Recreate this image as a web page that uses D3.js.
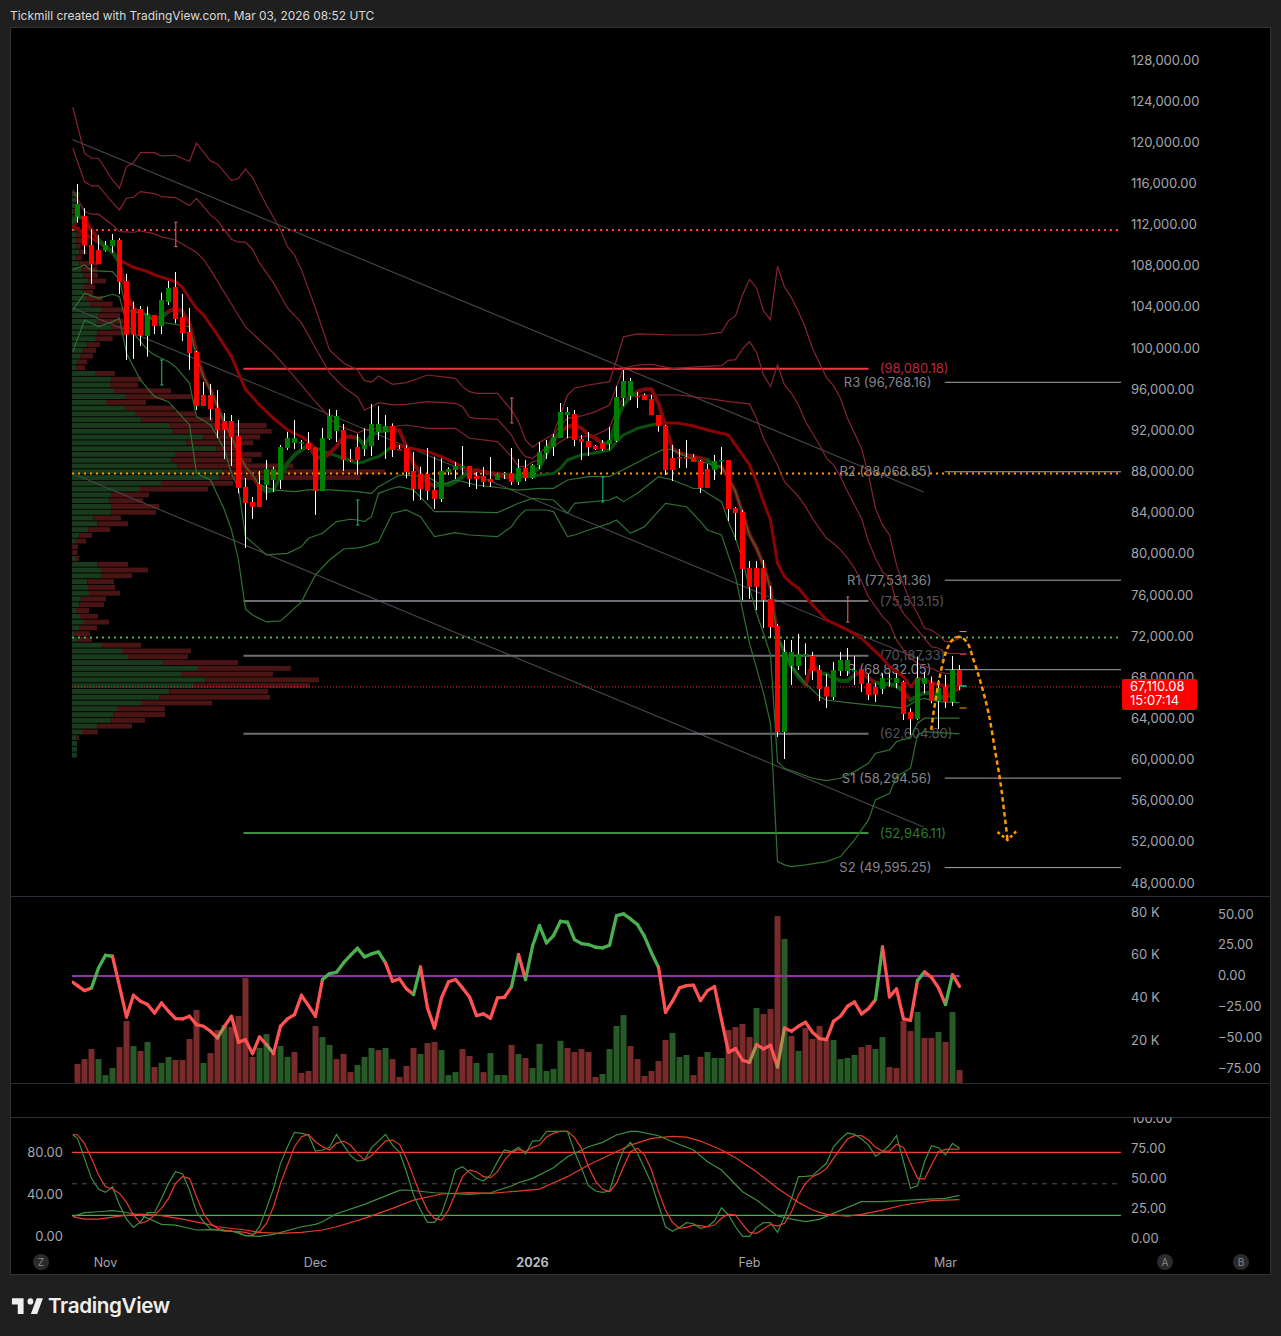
<!DOCTYPE html>
<html><head><meta charset="utf-8">
<script src="https://cdn.jsdelivr.net/npm/d3@7"></script>
<style>html,body{margin:0;padding:0;background:#1f1f1f;overflow:hidden}svg{display:block}text{font-family:Inter,Roboto,sans-serif}</style>
</head><body><div id="c"></div>
<script>
// ---- candles, in thousands of USD, one per day from 28 Oct 2025
const openK=[112.73,112.79,109.97,109.52,109.42,109.87,110.46,106.44,103.72,103.72,101.13,103.17,102.10,104.43,105.89,102.97,101.52,99.57,95.39,95.39,94.13,92.86,92.86,91.41,86.45,84.99,86.74,86.64,87.13,87.13,90.24,90.73,90.69,90.73,90.24,86.06,91.12,91.89,91.99,89.14,90.34,90.14,90.43,91.79,91.79,92.37,90.17,90.24,88.00,87.71,87.71,86.15,85.28,87.90,88.10,88.39,88.49,87.52,87.52,87.22,87.13,87.71,87.81,86.93,88.29,87.32,88.58,89.75,90.33,91.21,93.44,93.54,91.11,90.92,90.43,90.72,90.63,90.92,95.10,95.29,95.29,95.39,95.00,93.44,92.37,89.26,89.36,89.36,89.36,88.97,88.20,88.10,88.97,89.07,84.40,84.01,78.57,78.57,78.57,75.56,72.93,62.63,69.05,69.05,69.95,70.02,68.66,66.97,66.03,68.56,68.56,68.50,68.76,67.39,66.97,66.81,67.78,67.39,67.49,64.58,63.90,67.30,67.39,65.64,67.01,65.55,68.66];
const highK=[115.90,113.54,111.49,110.94,110.36,111.04,110.62,107.15,104.46,104.04,103.98,103.17,105.34,106.47,107.35,105.21,103.85,99.67,96.66,96.46,95.88,93.64,93.45,92.96,87.32,85.48,88.00,89.07,88.43,90.53,91.80,92.96,91.02,91.80,90.27,92.18,94.03,93.93,92.57,90.14,91.60,92.15,94.51,94.32,93.44,92.63,90.53,90.53,89.85,88.42,90.24,89.39,89.23,88.36,88.88,90.43,88.49,87.90,88.39,89.36,87.77,87.90,90.24,89.17,89.07,88.68,90.82,91.01,91.60,94.61,94.22,93.93,91.50,91.79,90.53,91.01,92.28,96.26,97.82,97.04,95.68,95.55,95.39,93.44,92.47,90.53,90.14,91.01,89.65,89.07,88.68,89.56,90.33,89.07,84.50,84.20,79.25,79.25,79.35,76.82,73.13,71.57,71.57,72.16,71.25,70.41,69.14,68.27,69.44,70.41,70.80,70.02,68.76,68.27,67.36,68.33,68.33,68.33,67.62,64.93,69.95,68.46,68.01,67.69,68.17,70.02,69.14];
const lowK=[112.14,109.10,106.18,108.13,109.32,109.23,105.21,98.79,98.89,100.15,99.12,101.32,101.32,104.14,102.36,100.64,97.82,93.93,94.32,92.96,91.21,89.17,88.49,85.83,80.52,83.34,84.51,85.19,85.96,86.26,90.05,90.14,90.14,90.05,83.73,86.06,91.02,90.82,88.00,88.88,87.62,89.46,89.46,91.01,89.17,89.36,90.04,87.29,85.12,85.18,85.18,84.31,84.99,87.61,87.22,87.61,86.45,86.25,86.45,86.45,87.13,87.22,86.64,86.64,87.03,87.22,88.20,89.17,89.46,91.21,91.18,90.43,89.07,89.46,90.04,89.94,90.04,90.82,94.32,94.90,94.12,94.90,93.44,91.82,87.61,87.03,88.29,88.29,88.88,85.86,86.35,87.13,87.71,83.14,81.29,75.46,75.56,74.49,72.74,71.77,62.15,60.01,67.20,68.66,68.17,67.69,65.64,64.96,65.74,68.08,68.08,67.20,66.52,65.74,65.55,66.32,67.04,66.88,63.80,62.34,63.80,66.39,65.42,62.92,64.96,65.16,66.71];
const closeK=[113.96,109.91,108.13,108.13,109.97,110.46,106.38,101.22,101.22,101.13,103.17,102.10,104.63,105.79,102.78,101.42,99.47,94.32,94.32,94.03,91.99,91.99,91.31,86.35,84.89,84.51,84.51,88.20,88.20,90.34,91.21,91.21,90.82,90.14,86.06,91.21,93.35,93.35,89.07,89.07,89.07,90.53,92.57,92.57,92.37,90.04,90.11,87.90,86.25,86.25,86.06,85.28,88.00,88.20,88.49,88.49,87.22,87.22,86.93,86.93,87.71,87.81,86.93,88.29,87.32,88.58,89.85,90.43,91.31,93.74,93.74,91.01,90.82,90.33,90.14,90.14,91.01,95.19,96.75,96.75,95.23,94.90,93.44,92.37,88.10,88.10,89.26,89.30,88.88,86.35,86.35,88.97,89.07,84.31,83.92,78.47,76.73,76.73,75.46,72.84,62.63,70.41,70.41,70.21,70.21,68.56,66.81,66.03,68.66,69.63,69.63,68.63,67.30,66.23,66.23,67.88,67.88,67.88,64.38,63.90,67.88,67.88,65.64,66.91,65.55,68.66,67.11];

// ---- bands and moving averages: [day index, price k]
const upper3=[[-0.67,123.36],[1,118.89],[2,118.40],[3,118.40],[5,116.29],[6,115.48],[7,117.59],[8,117.98],[9,118.95],[11,118.95],[12,118.63],[14,118.69],[16,118.08],[17,119.86],[19,118.14],[20,117.85],[22,116.23],[23,116.46],[24,117.36],[25,116.55],[26,115.16],[27,113.86],[29,111.43],[30,109.81],[31,109.0],[32,107.55],[34,103.82],[36,99.76],[38,98.5],[40,97.82],[41,96.78],[42,96.65],[43,97.23],[45,96.42],[47,96.59],[50,97.33],[54,97.01],[55,96.2],[56,95.71],[57,95.55],[60,95.55],[62,93.93],[63,92.8],[64,91.01],[65,90.3],[66,90.76],[68,91.6],[70,95.39],[71,96.04],[73,96.36],[76,96.68],[77,98.79],[78,101.04],[80,101.32],[85,101.22],[89,101.22],[92,101.48],[93,102.62],[94,103.07],[95,105.11],[96,106.63],[97,105.82],[98,103.56],[99,102.71],[100,107.90],[101,105.86],[102,104.85],[103,103.49],[104,101.87],[105,99.93],[106,98.47],[107,97.08],[108,96.30],[109,95.07],[110,93.12],[111,91.67],[112,90.21],[113,87.62],[114,84.38],[115,82.76],[116,81.78],[117,78.87],[118,76.93],[119,75.31],[120,74.17],[121,72.71],[122,72.55],[123,72.07],[124,71.42],[125,71.42],[126,71.74]];
const upper2=[[-0.67,119.37],[1,116.13],[2,115.71],[3,115.71],[5,114.09],[6,113.38],[7,114.51],[8,114.61],[9,115.16],[11,114.97],[12,114.67],[14,114.58],[16,113.80],[17,114.51],[19,112.89],[20,112.34],[22,110.53],[23,110.24],[24,110.24],[25,109.56],[26,108.23],[28,106.29],[30,103.85],[32,102.39],[34,99.96],[36,97.53],[38,96.17],[40,95.2],[41,93.93],[42,94.25],[43,94.64],[45,94.42],[47,94.48],[50,94.74],[54,94.58],[55,94.25],[56,93.22],[57,93.12],[60,93.02],[62,91.5],[63,90.2],[64,89.39],[65,89.23],[66,89.72],[67,90.3],[68,91.5],[69,92.47],[70,93.12],[72,93.35],[74,93.77],[76,94.42],[77,96.2],[78,98.01],[80,98.3],[82,98.37],[85,97.98],[89,98.14],[92,98.24],[93,98.76],[94,98.83],[95,99.86],[96,100.58],[97,99.54],[98,97.34],[99,96.2],[100,98.31],[101,96.36],[102,95.55],[103,94.42],[104,92.8],[105,91.67],[106,90.53],[107,89.24],[108,88.59],[109,87.45],[110,86.0],[111,84.7],[112,83.4],[113,81.14],[114,79.52],[115,78.22],[116,77.57],[117,75.3],[118,74.17],[119,73.36],[120,72.55],[121,71.74],[122,70.93],[123,70.77],[124,70.28],[125,70.28],[126,70.28]];
const upper1=[[-0.67,115.31],[1,113.22],[2,112.96],[3,112.96],[5,111.92],[6,111.27],[8,111.21],[9,111.34],[11,111.05],[12,110.75],[14,110.46],[16,109.65],[17,109.23],[18,108.58],[19,107.55],[24,102.0],[28,99.47],[31,97.14],[34,94.71],[37,92.47],[40,91.7],[41,91.99],[43,92.15],[47,92.47],[50,92.15],[54,92.15],[56,91.18],[60,90.85],[62,89.39],[63,88.42],[64,88.42],[65,88.9],[66,89.07],[67,89.88],[68,90.37],[69,90.85],[70,91.27],[72,91.34],[74,91.5],[76,92.15],[77,93.93],[78,95.1],[80,95.39],[86,95.39],[91,94.97],[93,94.74],[96,94.52],[97,93.12],[98,91.18],[99,89.88],[100,88.59],[101,86.97],[103,85.51],[104,84.54],[105,83.4],[107,81.46],[108,80.97],[109,80.33],[110,79.52],[111,78.54],[112,77.25],[113,75.79],[114,74.82],[115,73.85],[116,73.2],[117,71.58],[118,70.61],[119,69.8],[120,69.31],[121,68.99],[122,68.83],[123,68.5],[124,68.34],[126,68.18]];
const lower1=[[-0.67,107.54],[1,108.03],[2,107.48],[5,107.38],[6,106.57],[7,103.65],[8,103.49],[10,103.17],[11,102.52],[13,102.36],[16,102.03],[17,99.12],[18,97.17],[19,95.88],[20,94.26],[21,92.64],[22,91.34],[23,89.72],[24,88.43],[25,87.62],[26,86.65],[28,86.16],[31,86.0],[33,86.16],[36,86.16],[40,86.0],[41,85.9],[42,85.83],[43,86.48],[46,87.61],[50,87.45],[52,86.64],[54,87.13],[57,86.64],[63,86.15],[66,86.32],[68,86.32],[70,87.13],[73,87.45],[76,87.45],[79,88.49],[82,89.56],[84,90.2],[85,90.04],[88,89.07],[91,88.58],[92,88.42],[93,87.29],[94,86.0],[95,83.89],[96,81.78],[97,80.49],[98,78.87],[99,76.6],[100,71.74],[101,70.44],[102,69.0],[103,68.17],[104,67.36],[105,66.71],[106,66.07],[107,65.74],[110,65.48],[113,65.26],[116,65.09],[118,64.93],[120,65.74],[121,65.9],[123,65.58],[126,65.48]];
const lower2=[[-0.67,103.65],[1,105.27],[3,104.79],[5,105.18],[6,104.95],[7,102.36],[8,101.39],[10,99.77],[11,99.28],[13,98.63],[14,98.14],[16,96.53],[17,93.29],[18,92.9],[19,92.48],[20,91.34],[21,90.05],[22,87.78],[23,86.32],[24,81.62],[27,79.84],[30,80.0],[32,80.65],[33,81.46],[35,81.95],[37,83.08],[39,83.31],[40,83.24],[41,83.08],[42,83.56],[43,85.83],[45,86.32],[46,86.48],[48,86.15],[51,84.05],[54,84.05],[60,83.95],[63,84.86],[65,85.34],[68,85.18],[70,83.89],[71,84.86],[76,85.18],[77,85.5],[78,85.02],[80,85.83],[83,87.45],[85,87.13],[88,86.3],[89,86.32],[90,85.83],[92,85.02],[93,83.08],[94,81.46],[95,79.36],[96,76.6],[97,74.17],[98,72.23],[99,70.12],[100,59.75],[101,59.1],[103,58.62],[105,58.13],[107,57.91],[109,58.13],[111,58.78],[113,59.59],[114,60.56],[116,60.89],[117,61.7],[118,61.92],[119,62.02],[120,63.48],[121,63.97],[126,63.97]];
const lower3=[[-0.67,99.6],[1,102.68],[3,102.03],[5,102.52],[6,102.84],[7,99.44],[9,96.85],[11,95.23],[13,94.74],[16,92.48],[17,87.78],[19,87.13],[21,84.21],[22,82.27],[23,79.35],[24,74.6],[25,74.0],[27,73.33],[29,73.43],[32,75.28],[33,76.63],[34,77.9],[36,79.35],[38,80.42],[40,80.53],[41,80.65],[43,81.13],[45,83.89],[47,84.21],[49,83.56],[51,81.62],[54,82.0],[56,81.78],[60,81.62],[62,82.59],[63,83.56],[64,84.21],[67,84.21],[68,84.05],[70,81.62],[71,81.78],[73,82.27],[76,82.91],[77,83.24],[79,81.94],[81,82.59],[84,84.86],[87,84.53],[89,83.08],[90,82.27],[92,81.78],[94,77.74],[95,74.5],[96,71.26],[98,66.4],[99,63.48],[100,50.03],[101,49.71],[102,49.55],[104,49.71],[107,50.03],[109,50.52],[111,52.14],[113,54.09],[114,56.03],[116,56.68],[117,58.3],[119,59.11],[120,62.35],[121,62.67],[126,62.44]];
const basis=[[-0.67,111.82],[2,110.65],[4,109.78],[6,108.51],[8,107.8],[10,107.38],[11,107.06],[13,106.63],[14,106.4],[15,105.86],[16,104.79],[17,103.82],[18,103.17],[20,101.22],[22,99.12],[23,97.5],[24,95.94],[26,94.42],[28,93.12],[30,91.99],[32,91.34],[33,90.86],[34,90.21],[36,89.72],[38,89.24],[40,88.75],[41,88.9],[42,89.2],[43,89.39],[44,89.88],[45,90.43],[46,90.43],[47,90.3],[50,89.88],[52,89.39],[54,88.75],[56,88.1],[58,87.94],[60,87.77],[62,87.61],[64,87.45],[66,87.61],[68,87.77],[69,88.26],[70,89.07],[72,89.56],[74,89.78],[76,90.04],[77,90.85],[78,91.5],[80,92.15],[82,92.47],[83,92.63],[84,92.7],[86,92.63],[88,92.37],[90,91.99],[92,91.66],[93,91.5],[94,90.53],[95,89.56],[96,88.59],[97,86.97],[98,85.02],[99,83.24],[100,79.03],[101,77.73],[102,77.09],[103,76.6],[104,75.79],[105,74.98],[106,74.27],[107,73.52],[110,72.55],[112,71.74],[114,70.44],[115,69.8],[116,68.99],[117,68.5],[118,68.0],[119,67.04],[120,67.85],[121,67.69],[123,67.2],[126,67.04]];
const basisUpRanges=[[35,44.5],[63,83]];
const fast=[[-0.67,112.24],[0,112.73],[1,112.56],[2,111.43],[3,110.46],[4,109.81],[5,109.32],[6,108.19],[7,105.27],[8,103.82],[9,103.33],[10,103.17],[11,102.68],[12,103.0],[13,103.49],[14,103.82],[15,103.49],[16,102.36],[17,99.44],[18,97.17],[19,95.88],[20,94.26],[21,92.64],[22,91.34],[23,89.72],[24,88.43],[25,87.45],[26,86.48],[27,86.0],[28,86.16],[29,87.45],[30,88.75],[31,89.56],[32,90.05],[33,90.53],[34,89.4],[35,89.24],[36,89.72],[37,90.37],[38,91.34],[39,91.34],[40,91.18],[41,90.53],[42,91.5],[43,91.82],[44,91.92],[45,91.99],[46,91.92],[47,90.37],[48,88.75],[49,87.77],[50,86.87],[51,86.54],[52,86.74],[53,86.64],[54,86.96],[55,87.45],[56,87.94],[57,88.1],[58,87.94],[60,87.61],[62,87.29],[63,87.39],[64,87.61],[65,87.77],[66,88.36],[67,89.72],[68,91.08],[69,91.82],[70,92.31],[71,92.47],[72,92.15],[73,91.5],[74,91.18],[75,90.69],[76,90.69],[77,92.96],[78,94.42],[79,95.23],[80,95.71],[81,95.94],[82,95.94],[83,94.58],[84,92.31],[85,90.2],[86,89.72],[88,89.39],[90,89.07],[91,88.42],[92,88.42],[93,87.29],[94,86.0],[95,83.89],[96,81.78],[97,80.49],[98,78.87],[99,76.6],[100,71.74],[101,70.44],[102,68.98],[103,68.0],[104,67.2],[105,69.31],[106,68.33],[107,68.27],[108,67.85],[109,67.62],[110,67.62],[111,68.17],[112,68.5],[113,67.85],[114,67.43],[115,67.3],[116,67.3],[117,67.1],[118,66.55],[119,65.74],[120,66.13],[121,66.45],[122,66.39],[123,66.13],[124,65.9],[125,66.55],[126,66.88]];
const fastUpRanges=[[-1,0.5],[3.5,5.5],[9.5,12.5],[26.5,32.5],[40.5,44.5],[51.5,55.5],[62.5,68.5],[75.5,79.5],[90.5,91.5],[100.5,103.5],[106.5,110.5],[114.5,117.5],[119.5,123.5]];

// ---- channel lines, drawn levels and markers
const channels=[[[-0.71,120.23],[120.86,85.96]],[[-0.71,103.85],[120.86,69.53]],[[-0.71,87.76],[120.86,53.4]]];
const dottedPrices=[111.43,87.76,71.82];
const dottedColors=["#ff3b3b","#ff9800","#4caf50"];
const fibPrices=[98.08018,75.51315,70.18733,62.6048,52.94611];
const fibLabels=["(98,080.18)","(75,513.15)","(70,187.33)","(62,604.80)","(52,946.11)"];
const fibLine=["#f23645","#6e6e74","#6e6e74","#6e6e74","#3f8f43"];
const fibText=["#b7293d","#54565c","#54565c","#54565c","#2e7d32"];
const pivotPrices=[96.76816,88.06885,77.53136,68.83205,58.29456,49.59525];
const pivotLabels=["R3 (96,768.16)","R2 (88,068.85)","R1 (77,531.36)","P (68,832.05)","S1 (58,294.56)","S2 (49,595.25)"];
const redMarks=[[14,112.18,109.81],[62,95.10,92.67],[110,75.75,73.32]];
const greenMarks=[[12,98.79,96.36],[40,85.18,82.75],[75,87.42,84.99]];
const forecast=[[121.96,62.84],[122.29,64.5],[123.29,68.37],[124.29,70.8],[125.14,71.68],[126.14,71.87],[127.14,71.28],[128,69.63],[129,67.49],[130.14,64.48],[131.14,60.59],[131.86,57.67],[132.86,52.13]];
const forecastHead=[[131.43,52.91],[132.86,52.13],[134.14,53.0]];
const endDashes=[[72.39,"#ff9800"],[64.96,"#ff9800"],[70.21,"#a12a38"],[67.1,"#1f8f80"]];

// ---- volume profile rows, top to bottom: buy and sell volume
const vpBuy=[22,14,12,4,4,4,12,14,9,14,22,9,22,29,34,49,36,34,42,54,89,79,76,119,76,69,46,34,26,16,14,69,119,114,126,159,102,159,189,209,294,304,394,344,434,309,299,316,454,442,267,204,119,112,119,119,64,76,49,22,9,0,0,9,76,87,87,46,48,51,28,22,12,24,36,21,6,16,90,150,168,274,378,327,400,366,292,262,207,138,124,118,76,30,14,15,15,15];
const vpSell=[0,0,0,10,15,12,12,25,25,12,22,20,56,47,44,53,33,30,50,68,70,65,78,40,93,53,38,38,37,30,25,60,90,85,171,200,120,147,180,215,290,295,170,200,60,260,240,348,485,424,217,204,112,102,142,133,83,92,65,38,33,18,16,12,92,141,93,80,81,93,74,74,39,54,75,54,48,44,117,207,180,224,279,276,341,348,296,332,213,141,155,101,104,48,7,0,0,0];
const vpBottomK=60.39, vpStepK=0.562;

// ---- volume (thousands) and oscillator
const volumeK=[8.9,11.2,15.9,11.2,3.7,7.0,16.8,29.0,17.3,15.0,19.2,7.5,9.4,12.2,10.8,10.8,20.6,34.2,9.4,14.0,24.8,27.1,26.2,31.4,49.1,12.2,16.4,22.9,13.9,17.3,12.2,14.5,4.7,5.6,26.7,21.5,17.8,11.2,13.6,5.1,8.4,12.2,16.4,15.4,16.4,11.2,2.8,8.0,16.4,13.6,18.7,19.2,15.4,3.7,5.1,15.9,12.6,9.4,5.1,14.0,3.7,3.7,17.8,13.6,11.7,7.0,18.3,5.6,6.6,19.7,16.4,14.5,15.9,14.5,2.8,4.2,15.9,26.7,31.8,17.3,11.2,3.3,5.6,10.3,20.1,23.4,12.2,13.1,3.7,12.2,14.5,11.7,11.7,24.8,26.2,27.6,21.5,35.1,32.3,34.6,78.1,67.4,22.0,15.0,25.7,20.6,26.7,20.1,20.1,11.2,11.7,13.1,16.8,17.8,15.9,21.5,7.5,7.0,29.0,24.3,33.2,21.1,21.1,23.9,19.2,33.2,6.1];
const volumeSide=("RRRGGGRRGR"+"GRGGRRRRGR"+"RGRRRRGGRG"+"GRRRRGGRRR"+"GGGRGRRRRG"+"RRGGGRRGRG"+"GGRGRGGGGG"+"RRRRRGGGGR"+"RRRRRGGGRR"+"GGGRRRRGRR"+"RGRGRRRRGG"+"GGRRGGRRRR"+"GRRGRGR").split("");
const oscStart=[-0.67,-5.4];
const oscValues=[-8.1,-12.2,-10.0,6.2,16.5,15.7,-8.7,-33.6,-16.0,-20.8,-23.5,-30.3,-22.2,-28.9,-34.9,-35.2,-33.0,-39.8,-41.1,-45.2,-50.6,-41.1,-33.0,-54.1,-52.0,-63.3,-49.8,-56.0,-63.3,-41.1,-35.2,-31.7,-16.0,-24.4,-33.0,-3.2,1.6,2.7,10.3,16.5,22.2,15.2,17.6,19.2,10.3,-4.6,-2.7,-10.8,-15.4,7.0,-26.2,-42.5,-18.1,-5.1,-3.2,-10.0,-17.3,-32.5,-31.1,-34.6,-18.1,-17.6,-9.2,17.1,-3.2,23.8,40.6,26.5,32.5,44.1,43.3,29.2,26.0,25.2,23.0,22.5,24.6,48.7,50.1,46.0,41.4,31.9,18.4,6.8,-29.8,-20.8,-10.0,-8.1,-7.8,-20.3,-12.2,-8.9,-35.7,-62.2,-59.3,-68.7,-70.4,-56.0,-59.5,-56.6,-74.1,-42.5,-45.2,-41.1,-37.9,-46.0,-51.1,-52.0,-37.1,-33.0,-24.9,-21.4,-31.1,-26.8,-19.5,23.3,-17.3,-10.8,-35.2,-36.3,-4.1,3.0,-1.4,-10.0,-23.5,0.8,-8.7];
const oscUpRanges=[[2,5],[35,44],[48,49],[62,63],[64,83],[114,115],[120,121],[124,125]];
const oscTanRanges=[[20,21],[27,28],[96,97],[100,101]];

// ---- stochastic pane
const stochK=[93.3,74.2,55.2,45.0,41.8,47.2,29.8,16.4,8.5,13.9,22.5,22.5,36.1,50.4,61.5,59.6,44.1,23.4,13.9,6.9,6.0,5.0,5.0,3.7,0.6,0.6,9.1,26.6,45.7,69.5,85.3,99.0,98.0,96.5,81.2,82.2,84.7,97.1,86.9,76.8,71.7,72.6,84.4,90.7,97.1,86.9,79.9,61.5,39.3,25.0,13.3,13.3,21.8,40.9,63.1,66.3,60.9,55.2,52.6,58.4,71.1,82.2,80.6,84.7,78.4,90.7,91.1,100,100,100,100,80.6,64.7,48.2,43.1,41.8,43.1,64.7,82.2,89.5,79.0,64.7,50.4,29.8,9.1,4.7,8.5,13.0,12.0,7.6,9.1,14.5,27.2,20.3,9.1,0,0,8.5,13.0,13.0,3.7,18.7,36.1,56.8,57.1,57.7,63.7,69.5,85.3,92.6,98.4,97.1,92.6,86.9,76.4,80.6,86.9,95.8,71.0,45.7,48.2,71.0,86.3,84.4,77.4,88.5,83.8];
const stochD=[96.5,88.5,74.2,58.4,47.2,45.0,40.9,32.3,20.3,12.3,14.5,20.3,26.6,36.1,50.4,56.8,55.2,37.7,21.8,12.3,7.6,6.0,5.0,4.4,3.7,1.8,4.4,12.3,28.2,50.4,67.9,85.3,94.9,97.1,90.1,85.3,82.2,88.5,90.7,86.9,79.0,72.6,76.8,83.8,90.7,91.7,87.6,74.2,56.8,39.3,25.0,17.1,15.5,25.0,40.9,56.8,63.1,61.5,56.8,55.8,61.5,72.6,79.9,82.8,80.6,84.7,86.9,94.5,98.0,100,100,94.2,83.8,66.3,52.6,45.0,42.5,50.4,66.3,80.6,83.8,77.4,63.1,42.5,25.0,13.3,7.6,8.5,10.7,10.1,9.1,10.7,17.1,21.2,20.3,11.4,3.7,2.8,6.9,11.4,9.8,12.3,23.4,39.3,50.4,56.8,59.9,64.7,74.2,83.8,92.6,95.8,95.8,91.7,84.7,81.2,81.2,87.6,84.7,69.5,55.2,54.5,67.9,80.6,82.8,83.1,83.1];
const stochStart=[[-0.67,96.5],[-0.67,97.1]];
const slowGreen=[[-0.67,18.7],[1,22.5],[3,23.4],[5,24.4],[6.4,23.4],[9,20.3],[12,11.4],[14,10.7],[17,6.0],[19,6.3],[22,5.0],[24,0.6],[26,0],[28,1.8],[32,9.1],[34,11.4],[35,13.9],[37,21.5],[41,30.4],[46,43.7],[47,44.1],[51,41.5],[56,39.9],[59,41.5],[62,47.9],[63,51.0],[65,55.2],[68,65.3],[70,75.8],[73,85.3],[75,89.5],[77,96.5],[79,100],[80,100],[83,95.8],[85,90.1],[88,82.2],[90,71.1],[92,63.1],[95,42.5],[97,34.5],[100,19.3],[102,16.4],[104,13.9],[106,16.1],[108,21.8],[112,33.0],[115,33.0],[120,34.9],[124,36.1],[126,39.0]];
const slowRed=[[-0.67,18.7],[1,16.4],[3,16.4],[6,19.3],[9,21.2],[12,19.6],[15,16.4],[18,12.3],[20,9.1],[24,6.0],[26,3.7],[29,2.8],[32,3.7],[35,6.0],[37,9.1],[41,17.1],[45,26.6],[48,34.5],[52,40.3],[56,41.5],[59,40.9],[63,43.1],[66,45.0],[68,51.0],[70,56.8],[73,67.9],[76,77.4],[79,86.9],[82,93.3],[85,95.2],[87,94.5],[89,90.7],[92,82.2],[94,74.9],[97,61.5],[100,45.7],[103,32.3],[105,25.0],[107,20.9],[110,19.3],[112,20.9],[115,25.0],[118,29.8],[122,33.9],[126,34.9]];
const stochLevels=[[80,"#f2412f",null],[50,"#555",["5","5"]],[20,"#4caf50",null]];

// ---- axis ticks and texts
const priceTicks=d3.range(48,129,4);
const volTicks=[20,40,60,80];
const oscTicks=[-75,-50,-25,0,25,50];
const stochLeftTicks=[0,40,80];
const stochRightTicks=[0,25,50,75,100];
const timeTicks=[[4,"Nov"],[34,"Dec"],[65,"2026"],[96,"Feb"],[124,"Mar"]];
const title="Tickmill created with TradingView.com, Mar 03, 2026 08:52 UTC";
const lastPrice="67,110.08", countdown="15:07:14", lastK=67.11;

// ---- scales
const W=1281,H=1336;
const x=d3.scaleLinear().domain([0,126]).range([77.5,959.5]);
const y=d3.scaleLinear().domain([48,128]).range([882.5,59.5]);
const yVol=d3.scaleLinear().domain([0,80]).range([1083,912]);
const yOsc=d3.scaleLinear().domain([-75,50]).range([1068,914]);
const yS=d3.scaleLinear().domain([0,80]).range([1236.3,1152.3]);
const ySR=d3.scaleLinear().domain([0,100]).range([1238,1118]);
const vpX=d3.scaleLinear().domain([0,741]).range([72,319]);
const levelNudge=1.5, textCol="#a3a6af", dim="#2a2e39", labelSize=13;

const svg=d3.select("#c").append("svg").attr("width",W).attr("height",H);
svg.append("rect").attr("width",W).attr("height",H).attr("fill","#1f1f1f");
svg.append("rect").attr("x",10.5).attr("y",27.5).attr("width",1260).attr("height",1247).attr("fill","#000").attr("stroke","#333");
svg.append("text").attr("x",10).attr("y",19.5).attr("fill","#d8d8d8").attr("font-size",11.93).text(title);

const defs=svg.append("defs");
const clip=(id,a,b,c,d)=>defs.append("clipPath").attr("id",id).append("rect").attr("x",a).attr("y",b).attr("width",c-a).attr("height",d-b);
clip("cMain",72,28,1121,896); clip("cVol",72,897,1121,1083); clip("cSto",11,1117.5,1270,1250);

[896.5,1083.5,1117.5].forEach(v=>svg.append("line").attr("x1",11).attr("x2",1270).attr("y1",v).attr("y2",v).attr("stroke",dim));

const main=svg.append("g").attr("clip-path","url(#cMain)");
const L=(sy)=>d3.line().x(d=>x(d[0])).y(d=>sy(d[1]));
const inR=(m,rs)=>rs.some(r=>m>=r[0]&&m<=r[1]);

// volume profile
const vpN=vpBuy.length;
const vpRow=k=>vpBottomK+(vpN-1-k)*vpStepK;
const rowH=Math.abs(y(0.562+60)-y(60))-0.9;
main.selectAll(".vb").data(vpBuy).join("rect").attr("x",72).attr("y",(d,k)=>y(vpRow(k))-rowH/2).attr("height",rowH)
 .attr("width",d=>vpX(d)-72).attr("fill","#1a3a1d");
main.selectAll(".vs").data(vpSell).join("rect").attr("x",(d,k)=>vpX(vpBuy[k])).attr("y",(d,k)=>y(vpRow(k))-rowH/2).attr("height",rowH)
 .attr("width",d=>vpX(d)-72).attr("fill","#4a1414");

// channels
channels.forEach(c=>main.append("path").attr("d",L(y)(c)).attr("fill","none").attr("stroke","#47474b").attr("stroke-width",1.1));

// dotted levels
dottedPrices.forEach((p,k)=>main.append("line").attr("x1",72).attr("x2",1120).attr("y1",y(p)).attr("y2",y(p)).attr("stroke",dottedColors[k]).attr("stroke-width",2).attr("stroke-dasharray","2 4"));
main.append("line").attr("x1",72).attr("x2",1121).attr("y1",y(lastK)+1).attr("y2",y(lastK)+1).attr("stroke","#ff2020").attr("stroke-width",1).attr("stroke-dasharray","1 2");

// fib levels
fibPrices.forEach((p,k)=>{
  main.append("line").attr("x1",x(23.71)).attr("x2",x(113)).attr("y1",y(p)+levelNudge).attr("y2",y(p)+levelNudge).attr("stroke",fibLine[k]).attr("stroke-width",2);
  main.append("text").attr("x",x(114.6)).attr("y",y(p)+levelNudge).attr("dy","0.35em").attr("fill",fibText[k]).attr("font-size",labelSize).text(fibLabels[k]);
});
// pivots
pivotPrices.forEach((p,k)=>{
  main.append("line").attr("x1",x(123.9)).attr("x2",1121).attr("y1",y(p)+levelNudge).attr("y2",y(p)+levelNudge).attr("stroke","#a5a7ae").attr("stroke-width",1);
  main.append("text").attr("x",x(122)).attr("text-anchor","end").attr("y",y(p)+levelNudge).attr("dy","0.35em").attr("fill","#85878e").attr("font-size",labelSize).text(pivotLabels[k]);
});

// bands
[[upper3,"#86232f"],[upper2,"#86232f"],[upper1,"#86232f"]].forEach(b=>main.append("path").attr("d",L(y)(b[0])).attr("fill","none").attr("stroke",b[1]).attr("stroke-width",1.2));

// basis and fast averages
function twoTone(data,ranges,up,down,w){
  d3.pairs(data).forEach(p=>{
    const m=(p[0][0]+p[1][0])/2;
    main.append("path").attr("d",L(y)(p)).attr("fill","none").attr("stroke",inR(m,ranges)?up:down).attr("stroke-width",w).attr("stroke-linecap","round");
  });
}
twoTone(basis,basisUpRanges,"#0a4f10","#8c0303",3);
twoTone(fast,fastUpRanges,"#0a4f10","#7f0a0a",4);
[[lower3,"#2f7033"],[lower2,"#2f7033"],[lower1,"#2f7033"]].forEach(b=>main.append("path").attr("d",L(y)(b[0])).attr("fill","none").attr("stroke",b[1]).attr("stroke-width",1.2));

// candles
const idx=d3.range(openK.length);
main.selectAll(".w").data(idx).join("rect").attr("x",i=>x(i)-0.5).attr("width",1).attr("y",i=>y(highK[i])).attr("height",i=>y(lowK[i])-y(highK[i])).attr("fill","#fff");
main.selectAll(".b").data(idx).join("rect").attr("x",i=>x(i)-2.5).attr("width",5)
 .attr("y",i=>Math.round(y(Math.max(openK[i],closeK[i]))))
 .attr("height",i=>Math.max(1.5,Math.abs(y(openK[i])-y(closeK[i]))))
 .attr("fill",i=>closeK[i]>=openK[i]?"#008000":"#ff0000");

// i-bar markers
function ibar(list,col){list.forEach(m=>{
  const xx=x(m[0])+0.3;
  main.append("line").attr("x1",xx).attr("x2",xx).attr("y1",y(m[1])).attr("y2",y(m[2])).attr("stroke",col).attr("stroke-width",1);
  [m[1],m[2]].forEach(v=>main.append("line").attr("x1",xx-1.5).attr("x2",xx+1.5).attr("y1",y(v)).attr("y2",y(v)).attr("stroke",col).attr("stroke-width",1));
});}
ibar(redMarks,"#f0666f"); ibar(greenMarks,"#22b98a");

// end dashes
endDashes.forEach(d=>main.append("line").attr("x1",x(126)).attr("x2",x(127)).attr("y1",y(d[0])).attr("y2",y(d[0])).attr("stroke",d[1]).attr("stroke-width",d[1]==="#ff9800"?1:2));

// forecast arrow
main.append("path").attr("d",L(y).curve(d3.curveCatmullRom)(forecast)).attr("fill","none").attr("stroke","#ff9800").attr("stroke-width",2.5).attr("stroke-dasharray","4.5 3");
main.append("path").attr("d",L(y)(forecastHead)).attr("fill","none").attr("stroke","#ff9800").attr("stroke-width",2.5).attr("stroke-dasharray","3 2.5");

// price axis
function style(g){g.select(".domain").remove();g.selectAll("text").attr("fill",textCol).attr("font-size",labelSize).attr("font-family","Inter").attr("text-anchor","start");}
style(svg.append("g").attr("transform","translate(1131,0.4)").call(d3.axisRight(y).tickValues(priceTicks).tickSize(0).tickPadding(0).tickFormat(d=>d3.format(",.2f")(d*1000))));
// last price label
svg.append("rect").attr("x",1122).attr("y",679).attr("width",75).attr("height",31).attr("rx",2).attr("fill","#ff0000");
svg.append("text").attr("x",1130).attr("y",691).attr("fill","#fff").attr("font-size",labelSize).text(lastPrice);
svg.append("text").attr("x",1130).attr("y",705).attr("fill","#fff").attr("font-size",labelSize).text(countdown);

// volume pane
const vp=svg.append("g").attr("clip-path","url(#cVol)");
vp.selectAll(".v").data(volumeK).join("rect").attr("x",(d,i)=>x(i)-3).attr("width",6).attr("y",d=>yVol(d)).attr("height",d=>yVol(0)-yVol(d))
 .attr("fill",(d,i)=>volumeSide[i]==="R"?"#792a2b":"#275a27");
vp.append("line").attr("x1",72).attr("x2",x(126)).attr("y1",yOsc(0)+0.5).attr("y2",yOsc(0)+0.5).attr("stroke","#9331a8").attr("stroke-width",2);
const oscPts=[oscStart].concat(oscValues.map((v,i)=>[i,v]));
d3.pairs(oscPts).forEach(p=>{
  const m=(p[0][0]+p[1][0])/2;
  const col=inR(m,oscUpRanges)?"#4caf50":inR(m,oscTanRanges)?"#b08a55":"#ff5252";
  vp.append("path").attr("d",L(yOsc)(p)).attr("fill","none").attr("stroke",col).attr("stroke-width",3.3).attr("stroke-linecap","round");
});
style(svg.append("g").attr("transform","translate(1131,0)").call(d3.axisRight(yVol).tickValues(volTicks).tickSize(0).tickPadding(0).tickFormat(d=>d+" K")));
style(svg.append("g").attr("transform","translate(1218,0)").call(d3.axisRight(yOsc).tickValues(oscTicks).tickSize(0).tickPadding(0).tickFormat(d=>d3.format(".2f")(d).replace("-","−"))));

// stochastic pane
const sp=svg.append("g").attr("clip-path","url(#cSto)");
stochLevels.forEach(l=>{const s=sp.append("line").attr("x1",72).attr("x2",1121).attr("y1",yS(l[0])).attr("y2",yS(l[0])).attr("stroke",l[1]).attr("stroke-width",l[2]?1:1.2);if(l[2])s.attr("stroke-dasharray",l[2].join(" "));});
const seq=(first,vals)=>[first].concat(vals.map((v,i)=>[i,v]));
[[slowGreen,"#3d8f41"],[slowRed,"#e83a2a"],[seq(stochStart[0],stochK),"#3d8f41"],[seq(stochStart[1],stochD),"#e83a2a"]].forEach(s=>
  sp.append("path").attr("d",L(yS)(s[0])).attr("fill","none").attr("stroke",s[1]).attr("stroke-width",1.2));
style(sp.append("g").attr("transform","translate(1131,0)").call(d3.axisRight(ySR).tickValues(stochRightTicks).tickSize(0).tickPadding(0).tickFormat(d3.format(".2f"))));
const lg=sp.append("g").attr("transform","translate(63,0)").call(d3.axisLeft(yS).tickValues(stochLeftTicks).tickSize(0).tickPadding(0).tickFormat(d3.format(".2f")));
style(lg); lg.selectAll("text").attr("text-anchor","end");

// time axis
timeTicks.forEach(t=>svg.append("text").attr("x",x(t[0])).attr("y",1266.5).attr("text-anchor","middle").attr("fill",t[1]==="2026"?"#b8bac1":textCol).attr("font-weight",t[1]==="2026"?700:400).attr("font-size",12.5).text(t[1]));

// corner badges
[[41,"Z"],[1165,"A"],[1241,"B"]].forEach(b=>{
  svg.append("circle").attr("cx",b[0]).attr("cy",1262).attr("r",8).attr("fill","#2b2b2b");
  svg.append("text").attr("x",b[0]).attr("y",1265.5).attr("text-anchor","middle").attr("fill","#888").attr("font-size",10).text(b[1]);
});

// logo
svg.append("path").attr("transform","translate(10,1292) scale(0.97,1.05)").attr("fill","#eee").attr("d","M14 6H2v6h6v9h6V6zm14 15h-6.5l6-15H34l-6 15zm-7-15a3 3 0 1 1 0 6 3 3 0 0 1 0-6z");
svg.append("text").attr("x",48).attr("y",1313).attr("fill","#eee").attr("font-size",20.7).attr("font-weight",600).attr("letter-spacing",-0.4).text("TradingView");
</script></body></html>
